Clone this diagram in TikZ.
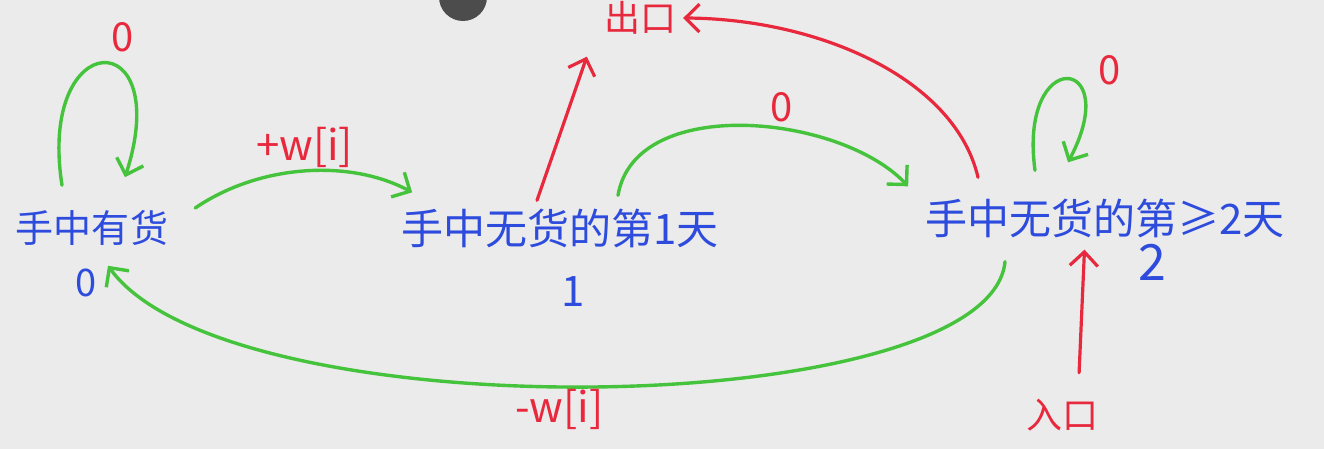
\documentclass[tikz,border=0pt]{standalone}
\usepackage{fontspec}
\setmainfont{Noto Sans CJK SC}
\usetikzlibrary{arrows.meta}

\definecolor{inkblue}{RGB}{45,75,220}
\definecolor{inkred}{RGB}{232,40,60}
\definecolor{inkgreen}{RGB}{70,195,60}
\definecolor{board}{RGB}{235,235,235}

\begin{document}
\begin{tikzpicture}
[
	x=1pt,y=1pt,
	state/.style={inner sep=0pt,text=inkblue,font=\fontsize{42}{42}\selectfont},
	num/.style={inner sep=0pt,text=inkblue,font=\fontsize{#1}{#1}\selectfont},
	lbl/.style={inner sep=1pt,text=inkred,font=\fontsize{36}{36}\selectfont},
	gedge/.style={draw=inkgreen,line width=3.4pt,line cap=round,-{Straight Barb[length=14pt,width=28pt]}},
	redge/.style={draw=inkred,line width=3.2pt,line cap=round,-{Straight Barb[length=14pt,width=28pt]}}
]

	% board
	\fill[board] (0,0) rectangle (1324,449);
	\useasboundingbox (0,0) rectangle (1324,449);
	\fill[black!70] (463,452) circle (24);

	% states
	\node[state,font=\fontsize{38}{38}\selectfont] (s0) at (92,221) {手中有货};
	\node[state] (s1) at (560,221) {手中无货的第1天};
	\node[state] (s2) at (1105,231) {手中无货的第≥2天};

	\node[num=38] (n0) at (86,166) {0};
	\node[num=42] (n1) at (573,157) {1};
	\node[num=50] (n2) at (1152,187) {2};

	\node[lbl] (exit) at (640,431) {出口};
	\node[lbl] (entry) at (1062,34) {入口};

	% self loops
	\draw[gedge] ([xshift=-30pt,yshift=25pt]s0.north) .. controls +(-25,160) and +(50,155) .. ([xshift=33pt,yshift=33pt]s0.north);
	\node[lbl,font=\fontsize{40}{40}\selectfont] (z0) at (123,412) {0};

	\draw[gedge] ([xshift=-70pt,yshift=28pt]s2.north) .. controls +(-17,125) and +(57,108) .. ([xshift=-37pt,yshift=36pt]s2.north);
	\node[lbl,font=\fontsize{40}{40}\selectfont] (z2) at (1110,379) {0};

	% transitions
	\draw[gedge] ([xshift=27pt,yshift=20pt]s0.east) .. controls (260,285) and (350,290) .. ([xshift=11pt,yshift=16pt]s1.north west)
		node[lbl,font=\fontsize{42}{42}\selectfont,pos=0.5,above=1pt] (sell) {+w[i]};

	\draw[gedge] ([xshift=58pt,yshift=13pt]s1.north) .. controls (635,355) and (840,335) .. ([xshift=-17pt,yshift=12pt]s2.north west)
		node[lbl,font=\fontsize{40}{40}\selectfont,pos=0.6,above=4pt] (z1) {0};

	\draw[gedge] ([xshift=-100pt,yshift=-24pt]s2.south) .. controls (990,28) and (230,15) .. ([xshift=16pt,yshift=-20pt]s0.south)
		node[lbl,font=\fontsize{42}{42}\selectfont,pos=0.53,below=0pt] (buy) {-w[i]};

	% exit and entry
	\draw[redge] ([xshift=-23pt,yshift=8pt]s1.north) -- ([xshift=-16pt,yshift=-21pt]exit.south west);
	\draw[redge] ([xshift=-127pt,yshift=21pt]s2.north) .. controls (955,370) and (820,430) .. ([xshift=6pt]exit.east);
	\draw[redge,shorten <=25pt,shorten >=12pt] ([xshift=16pt]entry.north) -- ([xshift=-20pt]s2.south);

\end{tikzpicture}
\end{document}
